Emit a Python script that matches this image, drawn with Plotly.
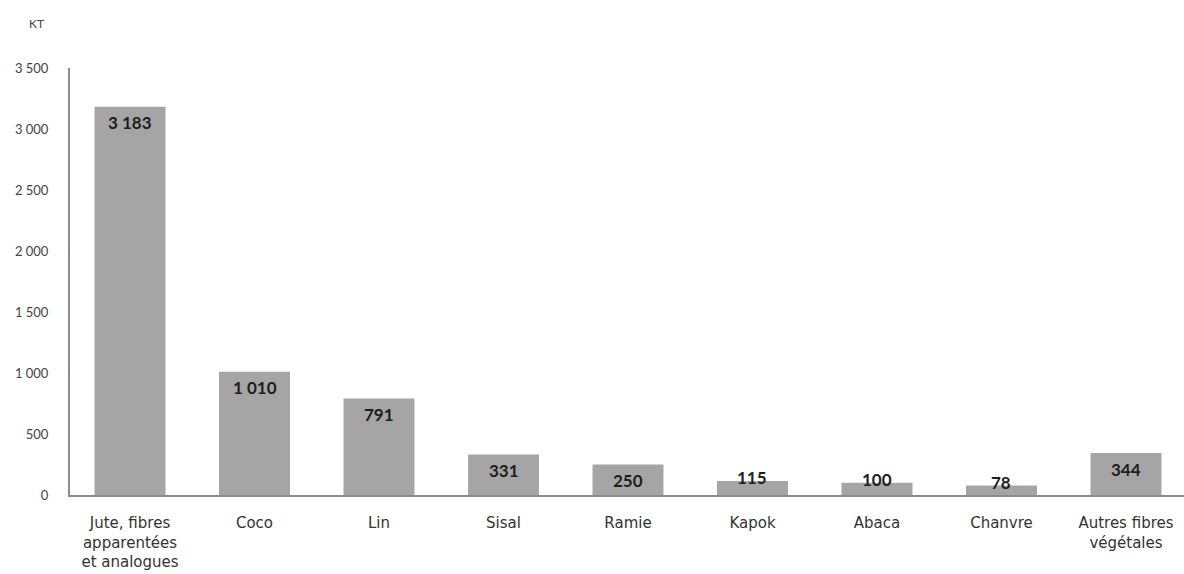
import plotly.graph_objects as go

categories = ["Jute, fibres<br>apparentées<br>et analogues", "Coco", "Lin", "Sisal", "Ramie",
              "Kapok", "Abaca", "Chanvre", "Autres fibres<br>végétales"]
values = [3183, 1010, 791, 331, 250, 115, 100, 78, 344]
y_ticks = [0, 500, 1000, 1500, 2000, 2500, 3000, 3500]

def fmt(v):
    return f"{v:,}".replace(",", " ")

fig = go.Figure()
fig.add_trace(go.Bar(
    x=list(range(len(categories))), y=values, width=0.57,
    marker=dict(color="#a5a5a5", line=dict(width=0)),
    hoverinfo="skip",
))

for i, v in enumerate(values):
    big = v >= 200
    fig.add_annotation(
        x=i, y=v, xref="x", yref="y", text=f"<b>{fmt(v)}</b>",
        showarrow=False, yanchor="middle", yshift=-16 if big else 3,
        font=dict(family="Lato", size=17, color="#1e1e1e"),
    )

fig.add_annotation(
    xref="paper", yref="paper", x=0, y=1, xanchor="center", yanchor="middle",
    xshift=-34, yshift=45, text="KT", showarrow=False,
    font=dict(family="Lato", size=12, color="#444444"),
)

fig.update_layout(
    width=1184, height=574,
    margin=dict(l=70, r=0, t=68, b=79),
    paper_bgcolor="white", plot_bgcolor="white",
    showlegend=False,
    separators=", ",
    xaxis=dict(
        range=[-0.482, 8.466], automargin=False,
        tickmode="array", tickvals=list(range(len(categories))), ticktext=categories,
        showline=True, linecolor="#8c8c8c", linewidth=2,
        showgrid=False, zeroline=False, ticks="",
        ticklabelstandoff=13,
        tickfont=dict(family="DejaVu Sans", size=15, color="#333333"),
    ),
    yaxis=dict(
        range=[0, 3500], tickmode="array", tickvals=y_ticks, automargin=False,
        tickformat=",d",
        showline=True, linecolor="#8c8c8c", linewidth=2,
        showgrid=False, zeroline=False, ticks="",
        ticklabelstandoff=17,
        tickfont=dict(family="Lato", size=13, color="#444444"),
    ),
)

fig.write_html("out.html")
